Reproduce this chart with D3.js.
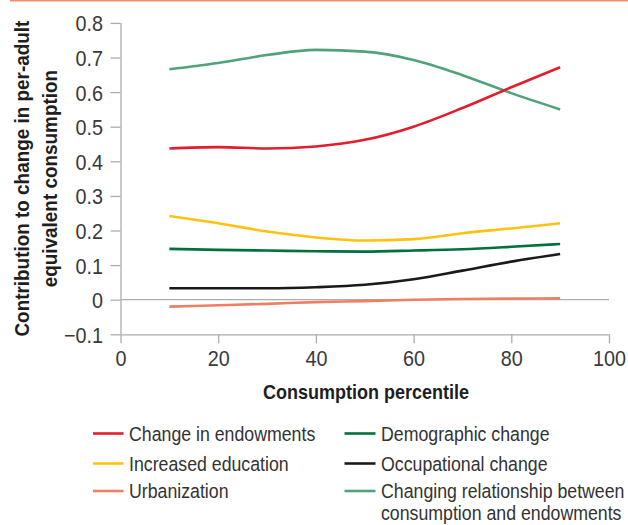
<!DOCTYPE html>
<html>
<head>
<meta charset="utf-8">
<script src="https://cdn.jsdelivr.net/npm/d3@7"></script>
<style>
  html, body { margin: 0; padding: 0; background: #fff; }
  svg { display: block; font-family: "Liberation Sans", Arial, sans-serif; }
</style>
</head>
<body>
<svg id="chart" width="628" height="525"></svg>
<script>
"use strict";

// ==========  Data  ==========
var percentiles  = [10, 20, 30, 40, 50, 60, 70, 80, 90]
var endowments   = [0.437, 0.441, 0.437, 0.443, 0.462, 0.500, 0.554, 0.614, 0.672]
var education    = [0.242, 0.221, 0.197, 0.180, 0.171, 0.175, 0.192, 0.206, 0.221]
var urbanization = [-0.020, -0.016, -0.012, -0.007, -0.004, 0.000, 0.002, 0.003, 0.004]
var demographic  = [0.147, 0.144, 0.142, 0.140, 0.139, 0.142, 0.146, 0.153, 0.161]
var occupational = [0.033, 0.033, 0.033, 0.036, 0.043, 0.059, 0.084, 0.110, 0.132]
var relationship = [0.666, 0.684, 0.707, 0.722, 0.717, 0.693, 0.649, 0.597, 0.550]

var seriesNames  = ["Change in endowments", "Demographic change", "Increased education",
                    "Occupational change", "Urbanization",
                    "Changing relationship between|consumption and endowments"]
var seriesValues = [endowments, demographic, education, occupational, urbanization, relationship]
var seriesColors = ["#e31d2b", "#00703c", "#ffc20e", "#1a1a1a", "#ef7f62", "#4fa27a"]
// draw order: bottom to top
var drawOrder    = [4, 3, 1, 2, 5, 0]

var xTicks = [0, 20, 40, 60, 80, 100]
var yTicks = [-0.1, 0, 0.1, 0.2, 0.3, 0.4, 0.5, 0.6, 0.7, 0.8]

// ==========  Layout  ==========
var svg = d3.select("#chart")
var sx  = 0.9    // horizontal squeeze to mimic the condensed face
var tickSx = 0.9
var axisColor = "#adadad"

var x = d3.scaleLinear().domain([0, 100]).range([120.5, 609])
var y = d3.scaleLinear().domain([-0.1, 0.8]).range([334.3, 22.9])

// thin rule across the top
svg.append("line")
   .attr("x1", 10).attr("x2", 628).attr("y1", 0.7).attr("y2", 0.7)
   .attr("stroke", "#f18c6b").attr("stroke-width", 1.5)

// ==========  Axes  ==========
var yAxis = svg.append("g")
   .attr("transform", "translate(" + x(0) + ",0)")
   .call(d3.axisLeft(y).tickValues(yTicks).tickSize(10)
           .tickFormat(function(v) { return v === 0 ? "0" : d3.format(".1f")(v) }))
var xAxis = svg.append("g")
   .attr("transform", "translate(0," + y(-0.1) + ")")
   .call(d3.axisBottom(x).tickValues(xTicks).tickSize(9))

;[yAxis, xAxis].forEach(function(g) {
  g.attr("font-size", null).attr("font-family", null)
  g.select(".domain").attr("stroke", axisColor).attr("stroke-width", 1.3)
  g.selectAll(".tick line").attr("stroke", axisColor).attr("stroke-width", 1.3)
  g.selectAll(".tick text")
   .attr("fill", "#3a3a3a")
   .attr("font-size", 22)
   .attr("transform", "scale(" + tickSx + ",1)")
})
yAxis.select(".domain").attr("d", "M0.5," + y(0.8) + "V" + y(-0.1))
yAxis.selectAll(".tick text").attr("x", -17.5 / tickSx).attr("dy", "0.36em")
xAxis.select(".domain").attr("d", "M" + x(0) + ",0.5H" + x(100))
xAxis.selectAll(".tick text").attr("y", 31.5).attr("dy", 0)

// zero line
svg.append("line")
   .attr("x1", x(0)).attr("x2", x(100)).attr("y1", y(0)).attr("y2", y(0))
   .attr("stroke", axisColor).attr("stroke-width", 1.3)

// ==========  Titles  ==========
var addText = function(str, tx, ty, opts) {
  var t = svg.append("text")
     .attr("transform", "translate(" + tx + "," + ty + ")" + (opts.rotate ? " rotate(-90)" : "") +
                        " scale(" + (opts.sx || sx) + ",1)")
     .attr("text-anchor", opts.anchor || "start")
     .attr("fill", opts.fill || "#333")
     .style("font-size", (opts.size || 20) + "px")
     .style("font-weight", opts.bold ? "bold" : "normal")
  str.split("|").forEach(function(part, k) {
    t.append("tspan").attr("x", 0).attr("y", k * (opts.lineGap || 19)).text(part)
  })
  return t
}
var midY = (y(0.8) + y(-0.1)) / 2
addText("Contribution to change in per-adult", 29, midY, {rotate: true, anchor: "middle", bold: true, fill: "#1e1e1e", size: 21})
addText("equivalent consumption", 57, midY, {rotate: true, anchor: "middle", bold: true, fill: "#1e1e1e", size: 21})
addText("Consumption percentile", 366, 399, {anchor: "middle", bold: true, fill: "#1e1e1e"})

// ==========  Lines  ==========
var line = d3.line()
   .x(function(d) { return x(d[0]) })
   .y(function(d) { return y(d[1]) })
   .curve(d3.curveMonotoneX)

drawOrder.forEach(function(i) {
  var pts = percentiles.map(function(p, k) { return [p, seriesValues[i][k]] })
  svg.append("path")
     .datum(pts)
     .attr("d", line)
     .attr("fill", "none")
     .attr("stroke", seriesColors[i])
     .attr("stroke-width", 2.6)
     .attr("stroke-linejoin", "round")
})

// ==========  Legend  ==========
var legendCols = [{lx1: 93, lx2: 123.5, tx: 129}, {lx1: 344.5, lx2: 375.5, tx: 381}]
var legendRows = [433.5, 463.5, 491]
seriesNames.forEach(function(name, i) {
  var col = legendCols[i % 2]
  var ly  = legendRows[Math.floor(i / 2)]
  svg.append("line")
     .attr("x1", col.lx1).attr("x2", col.lx2).attr("y1", ly).attr("y2", ly)
     .attr("stroke", seriesColors[i]).attr("stroke-width", 2.6)
  addText(name, col.tx, ly + 7, {size: 19.5, sx: 0.91, lineGap: 22})
})
</script>
</body>
</html>
